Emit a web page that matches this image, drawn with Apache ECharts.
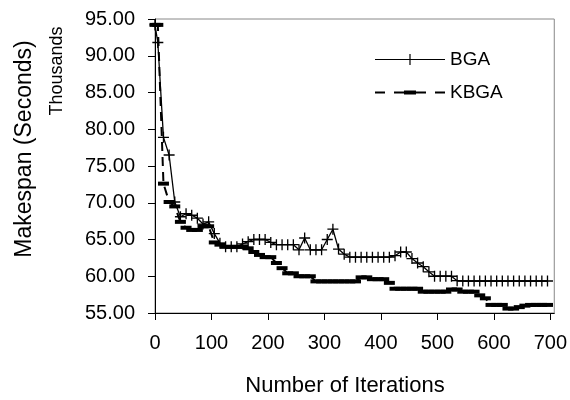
<!DOCTYPE html>
<html>
<head>
<meta charset="utf-8">
<script src="https://cdn.jsdelivr.net/npm/echarts@6/dist/echarts.min.js"></script>
<style>
  html, body { margin: 0; padding: 0; background: #fff; }
  #chart { width: 570px; height: 400px; }
</style>
</head>
<body>
<div id="chart"></div>
<script>
var iterations = [0, 5, 15, 25, 35, 45, 55, 65, 75, 85, 95, 105, 115, 125, 135, 145, 155, 165, 175, 185,
    195, 205, 215, 225, 235, 245, 255, 265, 275, 285, 295, 305, 315, 325, 335, 345, 355, 365, 375, 385,
    395, 405, 415, 425, 435, 445, 455, 465, 475, 485, 495, 505, 515, 525, 535, 545, 555, 565, 575, 585,
    595, 605, 615, 625, 635, 645, 655, 665, 675, 685, 695];

var bga = [94.2, 91.8, 78.9, 76.5, 70.1, 68.1, 68.5, 68.3, 67.9, 67.1, 67.4, 65.8, 64.5, 64.0, 64.0, 64.0, 64.4, 64.7, 65.0, 65.0,
    65.0, 64.6, 64.3, 64.3, 64.3, 64.3, 63.6, 65.2, 63.6, 63.6, 63.6, 65.0, 66.4, 63.7, 63.0, 62.6, 62.6, 62.6, 62.6, 62.6,
    62.6, 62.6, 62.6, 62.8, 63.3, 63.3, 62.4, 61.8, 61.3, 60.6, 60.0, 60.0, 60.0, 60.0, 59.4, 59.35, 59.35, 59.35, 59.35, 59.35,
    59.35, 59.35, 59.35, 59.35, 59.35, 59.35, 59.35, 59.35, 59.35, 59.35, 59.35];

var kbga = [94.2, 94.2, 72.6, 70.1, 69.5, 67.4, 66.6, 66.3, 66.3, 66.8, 66.8, 64.6, 64.3, 64.0, 64.0, 64.0, 64.0, 63.8, 63.3, 62.9,
    62.6, 62.6, 61.8, 61.1, 60.4, 60.4, 60.0, 60.0, 60.0, 59.3, 59.3, 59.3, 59.3, 59.3, 59.3, 59.3, 59.3, 59.85, 59.85, 59.6,
    59.6, 59.6, 59.1, 58.3, 58.3, 58.3, 58.3, 58.3, 57.9, 57.9, 57.9, 57.9, 57.9, 58.2, 58.2, 57.9, 57.9, 57.9, 57.4, 57.0,
    56.1, 56.1, 56.1, 55.6, 55.6, 55.8, 56.0, 56.1, 56.1, 56.1, 56.1];

function pairs(xs, ys) {
    var out = [];
    for (var i = 0; i < xs.length; i++) {
        out.push([xs[i], ys[i]]);
    }
    return out;
}

var font = 'Arial, "Liberation Sans", sans-serif';
var plusIcon = 'path://M4.4,0H5.6V4.4H10V5.6H5.6V10H4.4V5.6H0V4.4H4.4Z';
// legend samples: line with marker in the middle
var bgaLegendIcon = 'path://M0,4.9H70V6.1H0ZM34.4,0H35.6V11H34.4Z';
var kbgaLegendIcon = 'path://M0,1H10V3H0ZM19,1H30V3H19ZM29,0H41V4H29ZM40,1H51V3H40ZM60,1H70V3H60Z';

var chart = echarts.init(document.getElementById('chart'));
var option = {
    animation: false,
    backgroundColor: '#fff',
    textStyle: { fontFamily: font, color: '#000' },
    grid: {
        left: 155, right: 15, top: 19, bottom: 87,
        show: true, borderColor: '#888', borderWidth: 1
    },
    legend: {
        orient: 'vertical',
        left: 370,
        top: 45,
        itemWidth: 70,
        itemHeight: 14,
        itemGap: 14,
        data: [
            { name: 'BGA', icon: bgaLegendIcon },
            { name: 'KBGA', icon: kbgaLegendIcon }
        ],
        itemStyle: { color: '#000' },
        textStyle: { fontSize: 19, color: '#000', fontFamily: font, lineHeight: 18 }
    },
    xAxis: {
        type: 'value',
        min: 0,
        max: 707,
        interval: 100,
        splitLine: { show: false },
        axisLine: { lineStyle: { color: '#000', width: 1 } },
        axisTick: { length: 7, lineStyle: { color: '#000' } },
        axisLabel: { color: '#000', fontSize: 20, margin: 20, showMaxLabel: false,
            formatter: function (v) { return v % 100 === 0 ? String(v) : ''; } }
    },
    yAxis: {
        type: 'value',
        min: 55,
        max: 95,
        interval: 5,
        splitLine: { show: false },
        axisLine: { show: true, lineStyle: { color: '#000', width: 1 } },
        axisTick: { show: true, length: 7, lineStyle: { color: '#000' } },
        axisLabel: { color: '#000', fontSize: 20, margin: 20,
            formatter: function (v) { return v.toFixed(2); } }
    },
    graphic: [
        {
            type: 'text', x: 25, y: 149, rotation: Math.PI / 2,
            style: { text: 'Makespan (Seconds)', font: '23px ' + font,
                fill: '#000', textAlign: 'center', textVerticalAlign: 'middle' }
        },
        {
            type: 'text', x: 57, y: 71, rotation: Math.PI / 2,
            style: { text: 'Thousands', font: '18px ' + font,
                fill: '#000', textAlign: 'center', textVerticalAlign: 'middle' }
        },
        {
            type: 'text', x: 345, y: 386,
            style: { text: 'Number of Iterations', font: '22px ' + font,
                fill: '#000', textAlign: 'center', textVerticalAlign: 'middle' }
        }
    ],
    series: [
        {
            name: 'BGA',
            type: 'line',
            data: pairs(iterations, bga),
            symbol: plusIcon,
            symbolSize: 11,
            itemStyle: { color: '#000' },
            lineStyle: { color: '#000', width: 1.3 },
            z: 3
        },
        {
            name: 'KBGA',
            type: 'line',
            data: pairs(iterations, kbga),
            symbol: 'rect',
            symbolSize: [11, 4],
            itemStyle: { color: '#000' },
            lineStyle: { color: '#000', width: 2, type: [9, 6] },
            z: 2
        }
    ]
};
chart.setOption(option);
window.addEventListener('resize', function () {
    chart.resize();
});
</script>
</body>
</html>
